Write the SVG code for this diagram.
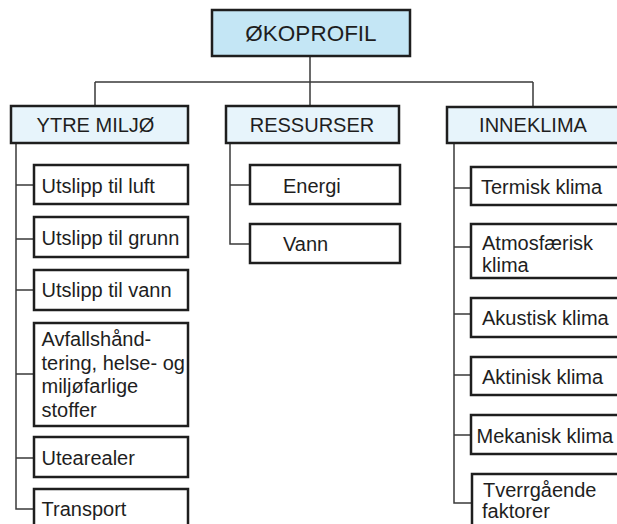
<svg xmlns="http://www.w3.org/2000/svg" width="617" height="524" viewBox="0 0 617 524">
  <style>
    .box { fill: #ffffff; stroke: #1e1e1e; stroke-width: 2.5; }
    .root { fill: #c4e6f5; stroke: #1e1e1e; stroke-width: 2.5; }
    .head { fill: #e7f4fb; stroke: #1e1e1e; stroke-width: 2.5; }
    .link { fill: none; stroke: #3a3a3a; stroke-width: 1.5; }
    text { font-family: "Liberation Sans", Arial, sans-serif; font-size: 20px; fill: #1e1e1e; }
    .mid { text-anchor: middle; }
    .big { font-size: 22.5px; }
  </style>
  <rect width="617" height="524" fill="#ffffff"/>

  <!-- connectors -->
  <g id="connectors">
    <path class="link" d="M310 56 V106 M95 82 H533 M95 82 V106 M533 82 V107"/>
    <!-- YTRE MILJØ branch -->
    <path class="link" d="M16 143 V509 H34 M16 185 H34 M16 239 H34 M16 290 H34 M16 374 H34 M16 458 H34"/>
    <!-- RESSURSER branch -->
    <path class="link" d="M230 143 V244 H250 M230 185 H250"/>
    <!-- INNEKLIMA branch -->
    <path class="link" d="M454 143 V503 H472 M454 188 H471 M454 247 H471 M454 314 H471 M454 375 H471 M454 435 H471"/>
  </g>

  <!-- root -->
  <g id="okoprofil">
    <rect class="root" x="212" y="10" width="198" height="46"/>
    <text class="mid big" x="311" y="41">ØKOPROFIL</text>
  </g>

  <!-- category headers -->
  <g id="ytre-miljo">
    <rect class="head" x="11" y="106" width="177" height="37"/>
    <text class="mid" x="95.5" y="132">YTRE MILJØ</text>
  </g>
  <g id="ressurser">
    <rect class="head" x="226" y="106" width="173" height="37"/>
    <text class="mid" x="312" y="132">RESSURSER</text>
  </g>
  <g id="inneklima">
    <rect class="head" x="447" y="107" width="177" height="36"/>
    <text class="mid" x="533" y="132">INNEKLIMA</text>
  </g>

  <!-- YTRE MILJØ items -->
  <g id="utslipp-luft">
    <rect class="box" x="34" y="165" width="154" height="39"/>
    <text x="41.5" y="193">Utslipp til luft</text>
  </g>
  <g id="utslipp-grunn">
    <rect class="box" x="34" y="217" width="154" height="40"/>
    <text x="41.5" y="245">Utslipp til grunn</text>
  </g>
  <g id="utslipp-vann">
    <rect class="box" x="34" y="270" width="154" height="40"/>
    <text x="41.5" y="297">Utslipp til vann</text>
  </g>
  <g id="avfall">
    <rect class="box" x="34" y="323" width="154" height="103"/>
    <text x="41.5" y="346">Avfallshånd-</text>
    <text x="41.5" y="370">tering, helse- og</text>
    <text x="41.5" y="393">miljøfarlige</text>
    <text x="41.5" y="417">stoffer</text>
  </g>
  <g id="utearealer">
    <rect class="box" x="34" y="437" width="154" height="40"/>
    <text x="41.5" y="465">Utearealer</text>
  </g>
  <g id="transport">
    <rect class="box" x="34" y="489" width="154" height="40"/>
    <text x="41.5" y="516">Transport</text>
  </g>

  <!-- RESSURSER items -->
  <g id="energi">
    <rect class="box" x="250" y="165" width="150" height="39"/>
    <text x="283" y="193">Energi</text>
  </g>
  <g id="vann">
    <rect class="box" x="250" y="224" width="150" height="39"/>
    <text x="283" y="251">Vann</text>
  </g>

  <!-- INNEKLIMA items -->
  <g id="termisk">
    <rect class="box" x="471" y="167" width="154" height="38"/>
    <text x="481" y="194">Termisk klima</text>
  </g>
  <g id="atmosfaerisk">
    <rect class="box" x="471" y="224" width="154" height="54"/>
    <text x="482" y="250">Atmosfærisk</text>
    <text x="482" y="272">klima</text>
  </g>
  <g id="akustisk">
    <rect class="box" x="471" y="298" width="154" height="39"/>
    <text x="482" y="325">Akustisk klima</text>
  </g>
  <g id="aktinisk">
    <rect class="box" x="471" y="357" width="154" height="38"/>
    <text x="482" y="384">Aktinisk klima</text>
  </g>
  <g id="mekanisk">
    <rect class="box" x="471" y="415" width="154" height="39"/>
    <text x="476.5" y="443">Mekanisk klima</text>
  </g>
  <g id="tverrgaende">
    <rect class="box" x="472" y="474" width="154" height="60"/>
    <text x="483" y="497">Tverrgående</text>
    <text x="482" y="518">faktorer</text>
  </g>
</svg>
